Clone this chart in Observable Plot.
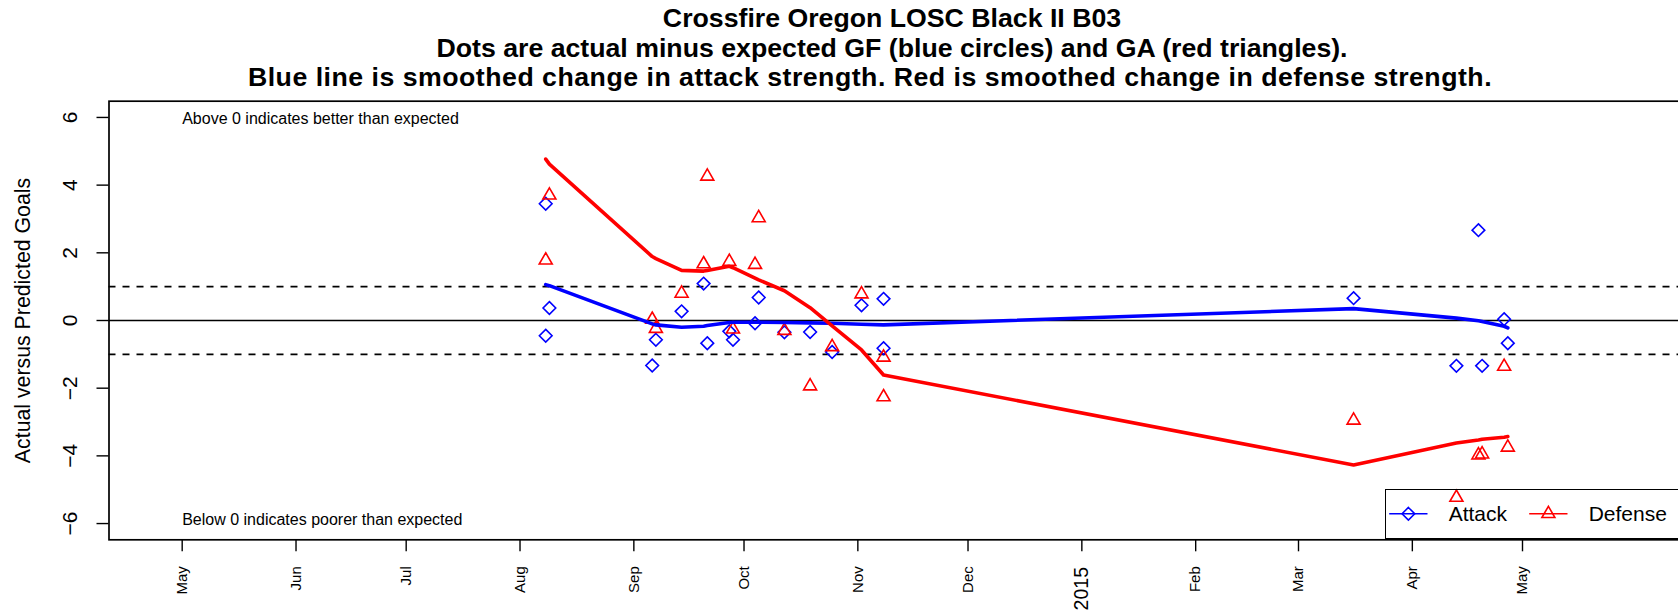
<!DOCTYPE html>
<html><head><meta charset="utf-8">
<script src="https://cdn.jsdelivr.net/npm/d3@7"></script>
<script src="https://cdn.jsdelivr.net/npm/@observablehq/plot@0.6"></script>
<style>
html,body{margin:0;padding:0;background:#fff;overflow:hidden;width:1678px;height:616px;}
#wrap{position:relative;width:1678px;height:616px;overflow:hidden;font-family:"Liberation Sans",Arial,sans-serif;color:#000;}
.t{position:absolute;left:0;width:1784px;text-align:center;font-weight:bold;font-size:26.7px;line-height:30px;white-space:nowrap;}
#chart{position:absolute;left:0;top:96px;}
#legend{position:absolute;left:1385px;top:488.7px;width:330px;height:50.6px;border:1.8px solid #000;box-sizing:border-box;}
#legend svg{display:block;overflow:visible;}
</style></head>
<body><div id="wrap">
<div class="t" style="top:3px">Crossfire Oregon LOSC Black II B03</div>
<div class="t" style="top:32.8px">Dots are actual minus expected GF (blue circles) and GA (red triangles).</div>
<div class="t" style="top:62px;width:1740px;letter-spacing:0.5px">Blue line is smoothed change in attack strength. Red is smoothed change in defense strength.</div>
<div id="chart"></div>
<div id="legend"></div>
</div>
<script>
// ---- data ----
const attackDates = ["2014-08-08","2014-08-09","2014-08-08","2014-09-06","2014-09-07","2014-09-14","2014-09-20","2014-09-21","2014-09-27","2014-09-28","2014-10-04","2014-10-05","2014-10-12","2014-10-19","2014-10-25","2014-11-02","2014-11-08","2014-11-08","2015-03-16","2015-04-13","2015-04-19","2015-04-20","2015-04-26","2015-04-27"];
const attackValues = [3.45,0.37,-0.45,-1.33,-0.57,0.27,1.09,-0.67,-0.32,-0.57,-0.08,0.68,-0.35,-0.34,-0.93,0.45,0.64,-0.82,0.66,-1.34,2.67,-1.34,0.04,-0.67];

const defenseDates = ["2014-08-09","2014-08-08","2014-09-06","2014-09-07","2014-09-14","2014-09-21","2014-09-20","2014-09-27","2014-09-28","2014-10-05","2014-10-04","2014-10-12","2014-10-19","2014-10-25","2014-11-02","2014-11-08","2014-11-08","2015-03-16","2015-04-19","2015-04-20","2015-04-26","2015-04-27","2015-04-13"];
const defenseValues = [3.70,1.78,0.03,-0.24,0.80,4.26,1.67,1.74,-0.26,3.03,1.65,-0.30,-1.94,-0.78,0.78,-1.09,-2.26,-2.95,-3.98,-3.95,-1.36,-3.75,-5.23];

const smoothDates = ["2014-08-08","2014-08-09","2014-09-06","2014-09-07","2014-09-14","2014-09-20","2014-09-21","2014-09-27","2014-09-28","2014-10-04","2014-10-05","2014-10-12","2014-10-19","2014-10-25","2014-11-02","2014-11-08","2015-03-16","2015-04-13","2015-04-19","2015-04-20","2015-04-26","2015-04-27"];
const attackSmooth = [1.06,1.03,-0.10,-0.13,-0.20,-0.17,-0.15,-0.06,-0.05,-0.05,-0.05,-0.06,-0.07,-0.08,-0.11,-0.13,0.35,0.07,-0.01,-0.03,-0.17,-0.22];
const defenseSmooth = [4.77,4.62,1.89,1.83,1.48,1.46,1.48,1.60,1.56,1.25,1.20,0.88,0.38,-0.16,-0.87,-1.61,-4.27,-3.62,-3.53,-3.51,-3.45,-3.43];

const monthTickDates = ["2014-05-01","2014-06-01","2014-07-01","2014-08-01","2014-09-01","2014-10-01","2014-11-01","2014-12-01","2015-02-01","2015-03-01","2015-04-01","2015-05-01"];
const monthTickLabels = ["May","Jun","Jul","Aug","Sep","Oct","Nov","Dec","Feb","Mar","Apr","May"];
const yearTickDates = ["2015-01-01"];
const yearTickLabels = ["2015"];
const yTicks = [-6,-4,-2,0,2,4,6];
const refSolid = [0];
const refDashed = [-1,1];
const notes = [
  {date: "2014-05-01", value: 5.95, text: "Above 0 indicates better than expected"},
  {date: "2014-05-01", value: -5.9, text: "Below 0 indicates poorer than expected"}
];
const yTitle = "Actual versus Predicted Goals";
const legendItems = [{label: "Attack", color: "#0000FF", symbol: "diamond"}, {label: "Defense", color: "#FF0000", symbol: "triangle"}];

// ---- build ----
const pd = s => new Date(s + "T00:00:00Z");
const attack = attackDates.map((d, i) => ({date: pd(d), value: attackValues[i]}));
const defense = defenseDates.map((d, i) => ({date: pd(d), value: defenseValues[i]}));
const aLine = smoothDates.map((d, i) => ({date: pd(d), value: attackSmooth[i]}));
const dLine = smoothDates.map((d, i) => ({date: pd(d), value: defenseSmooth[i]}));
const noteData = notes.map(n => ({...n, date: pd(n.date)}));
const monthTicks = monthTickDates.map(pd);
const yearTicks = yearTickDates.map(pd);
const monthLabelOf = new Map(monthTickDates.map((d, i) => [+pd(d), monthTickLabels[i]]));
const yearLabelOf = new Map(yearTickDates.map((d, i) => [+pd(d), yearTickLabels[i]]));

const DAY = 864e5;
const may1 = Date.UTC(2014, 4, 1);
const font = "Liberation Sans, Arial, sans-serif";

const chart = Plot.plot({
  width: 1681, height: 520,
  marginTop: 4.7, marginBottom: 76.7, marginLeft: 108.5, marginRight: 0,
  style: {fontFamily: font, maxWidth: "none", overflow: "visible", background: "white", color: "black"},
  x: {type: "utc", domain: [new Date(may1 - 19.93 * DAY), new Date(may1 + 408.3 * DAY)]},
  y: {domain: [-6.48, 6.48]},
  marks: [
    Plot.ruleY(refSolid, {stroke: "black", strokeWidth: 1.6}),
    Plot.ruleY(refDashed, {stroke: "black", strokeWidth: 1.6, strokeDasharray: "7,7"}),
    Plot.text(noteData, {x: "date", y: "value", text: "text", textAnchor: "start", fontSize: 16, fill: "black"}),
    Plot.dot(attack, {x: "date", y: "value", symbol: "diamond2", r: 5.7, stroke: "#0000FF", strokeWidth: 1.6}),
    Plot.dot(defense, {x: "date", y: "value", symbol: "triangle2", r: 6.2, stroke: "#FF0000", strokeWidth: 1.6}),
    Plot.line(aLine, {x: "date", y: "value", stroke: "#0000FF", strokeWidth: 3.6}),
    Plot.line(dLine, {x: "date", y: "value", stroke: "#FF0000", strokeWidth: 3.6}),
    Plot.frame({stroke: "black", strokeWidth: 1.7}),
    Plot.axisY({ticks: yTicks, tickSize: 12, tickRotate: -90, tickPadding: 20.5, fontSize: 21, strokeWidth: 1.4, label: null}),
    Plot.axisX({ticks: monthTicks, tickSize: 12, tickRotate: -90, tickPadding: 14.4, fontSize: 15, strokeWidth: 1.4, label: null, tickFormat: d => monthLabelOf.get(+d)}),
    Plot.axisX({ticks: yearTicks, tickSize: 12, tickRotate: -90, tickPadding: 15.2, fontSize: 19.5, strokeWidth: 1.4, label: null, tickFormat: d => yearLabelOf.get(+d)}),
    Plot.text([yTitle], {frameAnchor: "left", dx: -86, rotate: -90, textAnchor: "middle", lineAnchor: "middle", fontSize: 21.3, fill: "black"})
  ]
});
document.getElementById("chart").appendChild(chart);

// ---- legend (inside plot, bottom right) ----
const lg = d3.select("#legend").append("svg").attr("width", 330).attr("height", 47);
const keyX = [3.2, 143.2];
legendItems.forEach((it, i) => {
  const x0 = keyX[i], cx = x0 + 19.2, cy = 23.8;
  lg.append("line").attr("x1", x0).attr("x2", x0 + 38.3).attr("y1", cy).attr("y2", cy).attr("stroke", it.color).attr("stroke-width", 1.6);
  const sym = it.symbol === "diamond" ? d3.symbolDiamond2 : d3.symbolTriangle2;
  const size = it.symbol === "diamond" ? Math.PI * 5.7 * 5.7 : Math.PI * 6.2 * 6.2;
  lg.append("path").attr("d", d3.symbol(sym, size)()).attr("transform", `translate(${cx},${cy})`).attr("fill", "none").attr("stroke", it.color).attr("stroke-width", 1.6);
  lg.append("text").attr("x", x0 + 59.5).attr("y", cy + 7.5).attr("font-family", font).attr("font-size", 21).attr("fill", "black").text(it.label);
});
</script>
</body></html>
